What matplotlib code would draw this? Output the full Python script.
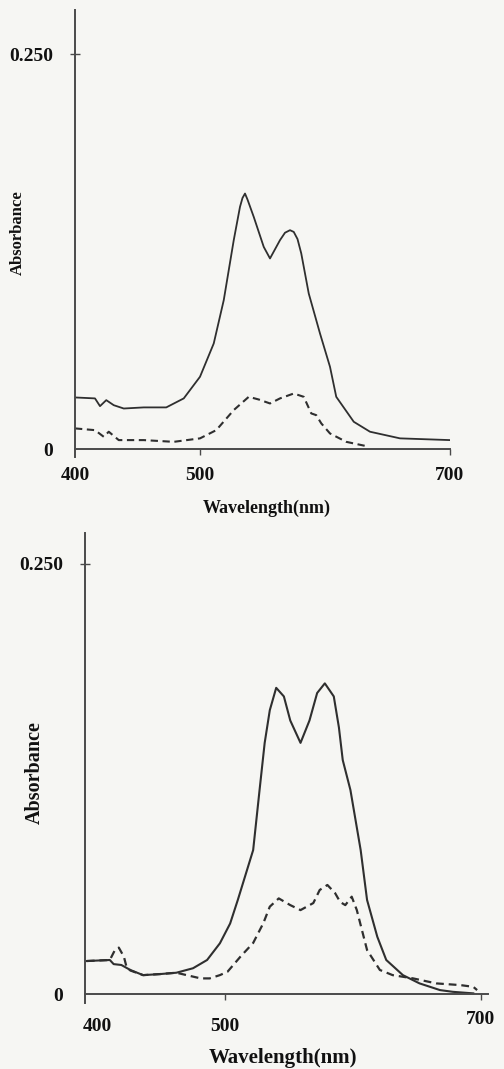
import matplotlib
matplotlib.use("Agg")
import matplotlib.pyplot as plt
from matplotlib.transforms import ScaledTranslation

# ---------------- data ----------------
x_ticks = [400, 500, 700]
x_tick_labels = ["400", "500", "700"]
y_ticks = [0.0, 0.25]
y_tick_labels = ["0", "0.250"]
x_label = "Wavelength(nm)"
y_label = "Absorbance"

# top panel
top_solid_nm = [400, 416, 420, 425, 431, 439, 455, 473, 487, 500, 511, 519, 527, 532,
                534, 536, 538, 543, 551, 556, 564, 568, 572, 575, 578, 581, 587, 596,
                604, 609, 623, 636, 660, 700]
top_solid_abs = [0.0327, 0.0321, 0.0272, 0.031, 0.0278, 0.0257, 0.0264, 0.0264, 0.0321,
                 0.0458, 0.0669, 0.0943, 0.1323, 0.1534, 0.159, 0.1618, 0.158, 0.147,
                 0.128, 0.1207, 0.1323, 0.137, 0.1386, 0.1375, 0.133, 0.1239, 0.0985,
                 0.0732, 0.0521, 0.0331, 0.0173, 0.011, 0.0068, 0.0057]
top_dash_nm = [400, 416, 423, 427, 435, 455, 479, 500, 513, 527, 539, 547, 556, 564,
               575, 583, 589, 593, 597, 604, 617, 633]
top_dash_abs = [0.0131, 0.012, 0.0078, 0.011, 0.0057, 0.0057, 0.0046, 0.0068, 0.012,
                0.0247, 0.0331, 0.0314, 0.0289, 0.0321, 0.0352, 0.0331, 0.0226, 0.0215,
                0.0163, 0.0099, 0.0046, 0.0019]

# bottom panel
bot_solid_nm = [392, 410, 413, 419, 426, 436, 449, 462, 475, 486, 496, 504, 510, 522,
                527, 531, 535, 540, 546, 551, 559, 566, 572, 578, 585, 589, 592, 598,
                606, 611, 619, 626, 639, 652, 668, 678, 694]
bot_solid_abs = [0.0192, 0.0198, 0.0174, 0.0169, 0.014, 0.011, 0.0116, 0.0124, 0.015,
                 0.0198, 0.0295, 0.041, 0.0547, 0.0837, 0.1186, 0.146, 0.165, 0.178,
                 0.173, 0.159, 0.146, 0.159, 0.175, 0.1806, 0.173, 0.155, 0.136, 0.1186,
                 0.0837, 0.0547, 0.0333, 0.0198, 0.011, 0.0062, 0.0023, 0.0013, 0.0004]
bot_dash_nm = [392, 410, 414, 417, 421, 423, 426, 436, 449, 462, 470, 481, 488, 496,
               502, 512, 522, 530, 535, 542, 551, 559, 569, 574, 580, 586, 590, 594,
               599, 603, 607, 611, 621, 631, 647, 665, 684, 694, 697]
bot_dash_abs = [0.0192, 0.0198, 0.0256, 0.027, 0.0217, 0.0159, 0.0137, 0.011, 0.0116,
                0.0124, 0.011, 0.0091, 0.0091, 0.011, 0.013, 0.0217, 0.0297, 0.0413,
                0.0508, 0.0556, 0.0517, 0.0488, 0.0529, 0.0605, 0.0634, 0.0587, 0.0535,
                0.0517, 0.0566, 0.0488, 0.0372, 0.0256, 0.014, 0.011, 0.0091, 0.0062,
                0.0052, 0.0042, 0.0023]

# ---------------- styling ----------------
W, H = 504, 1069
BG = "#f6f6f3"
LINE = "#2f2f2f"
AXC = "#4a4a4a"
plt.rcParams["font.family"] = ["Liberation Serif", "DejaVu Serif"]
plt.rcParams["font.weight"] = "bold"

fig = plt.figure(figsize=(W / 100, H / 100), dpi=100, facecolor=BG)


def px_rect(left, top, right, bottom):
    return [left / W, 1 - bottom / H, (right - left) / W, (bottom - top) / H]


def style_axes(ax, xlim, ylim, xpad, ypad, fs):
    ax.set_facecolor("none")
    ax.set_xlim(*xlim)
    ax.set_ylim(*ylim)
    for s in ("top", "right"):
        ax.spines[s].set_visible(False)
    ax.spines["bottom"].set_position(("data", 0))
    for s in ("left", "bottom"):
        ax.spines[s].set_color(AXC)
        ax.spines[s].set_linewidth(1.4)
    ax.set_xticks(x_ticks)
    ax.set_xticklabels(x_tick_labels, fontsize=fs, fontweight="bold", color="#111111")
    ax.set_yticks(y_ticks)
    ax.set_yticklabels(y_tick_labels, fontsize=fs, fontweight="bold", color="#111111")
    ax.tick_params(axis="x", direction="out", length=4, width=1.0, color=AXC, pad=xpad)
    ax.tick_params(axis="y", direction="inout", length=7, width=1.0, color=AXC, pad=ypad)
    ax.yaxis.get_major_ticks()[0].tick1line.set_visible(False)
    ax.xaxis.get_major_ticks()[0].tick1line.set_visible(False)


# top panel
ax1 = fig.add_axes(px_rect(75, 10, 450, 457))
style_axes(ax1, (400, 700), (-0.005, 0.278), xpad=9, ypad=12, fs=14)
ax1.plot(top_solid_nm, top_solid_abs, color=LINE, lw=1.3, solid_joinstyle="round")
ax1.plot(top_dash_nm, top_dash_abs, color=LINE, lw=1.5, dashes=(3.5, 2.2))

# bottom panel
ax2 = fig.add_axes(px_rect(85, 533, 488, 1003))
style_axes(ax2, (390.6, 705.5), (-0.0052, 0.268), xpad=13, ypad=12, fs=14)
ax2.plot(bot_solid_nm, bot_solid_abs, color=LINE, lw=1.5, solid_joinstyle="round")
ax2.plot(bot_dash_nm, bot_dash_abs, color=LINE, lw=1.6, dashes=(3.5, 2.2))
lab700 = ax2.get_xticklabels()[2]
lab700.set_transform(lab700.get_transform() + ScaledTranslation(0, 0.07, fig.dpi_scale_trans))

# axis titles
fig.text(267 / W, 1 - 508 / H, x_label, ha="center", va="center", fontsize=13,
         fontweight="bold", color="#111111")
fig.text(283 / W, 1 - 1058 / H, x_label, ha="center", va="center", fontsize=15,
         fontweight="bold", color="#111111")
fig.text(18 / W, 1 - 233 / H, y_label, ha="center", va="center", fontsize=12,
         fontweight="bold", rotation=90, color="#111111")
fig.text(35 / W, 1 - 773 / H, y_label, ha="center", va="center", fontsize=14.5,
         fontweight="bold", rotation=90, color="#111111")

fig.savefig("out.png", dpi=100, facecolor=BG)
